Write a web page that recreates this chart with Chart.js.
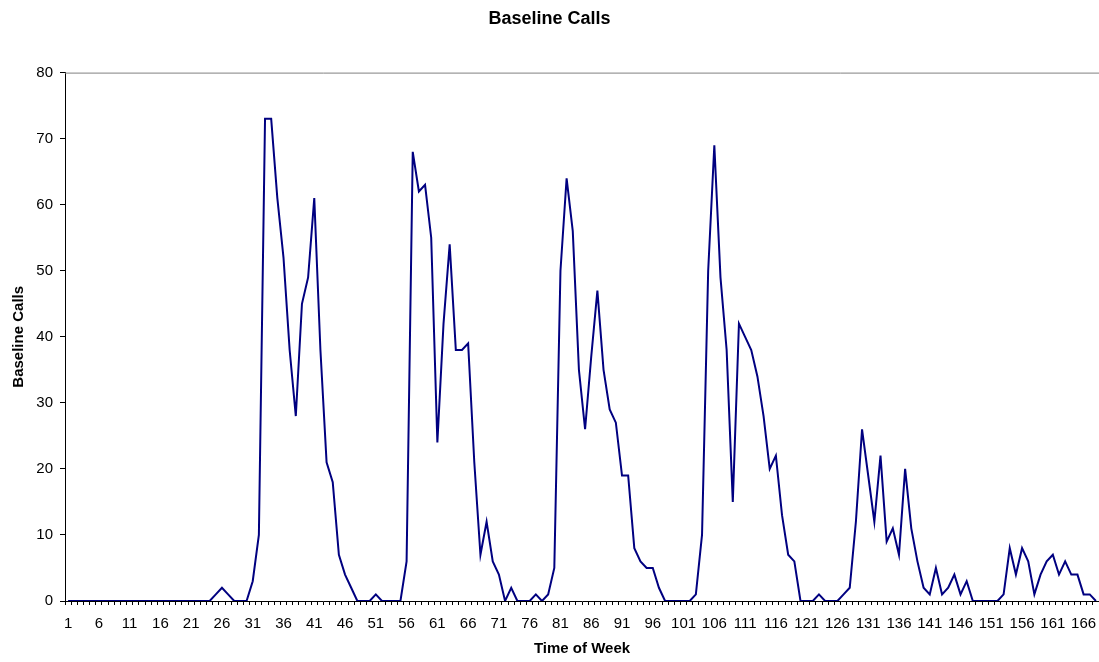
<!DOCTYPE html>
<html>
<head>
<meta charset="utf-8">
<title>Baseline Calls</title>
<script src="https://cdn.jsdelivr.net/npm/chart.js@4.4.1/dist/chart.umd.min.js"></script>
<style>
    html, body { margin: 0; padding: 0; background: #ffffff; overflow: hidden; }
    canvas { display: block; }
</style>
</head>
<body>
<canvas id="callsChart" width="1099" height="662"></canvas>
<script>
// hour of the week (x categories)
const hours = [];
for (let h = 1; h <= 168; h++) hours.push(String(h));

// baseline calls per hour
const calls = [
    0, 0, 0, 0, 0, 0, 0, 0, 0, 0,
    0, 0, 0, 0, 0, 0, 0, 0, 0, 0,
    0, 0, 0, 0, 1, 2, 1, 0, 0, 0,
    3, 10, 73, 73, 61, 52, 38, 28, 45, 49,
    61, 38, 21, 18, 7, 4, 2, 0, 0, 0,
    1, 0, 0, 0, 0, 6, 68, 62, 63, 55,
    24, 42, 54, 38, 38, 39, 21, 7, 12, 6,
    4, 0, 2, 0, 0, 0, 1, 0, 1, 5,
    50, 64, 56, 35, 26, 37, 47, 35, 29, 27,
    19, 19, 8, 6, 5, 5, 2, 0, 0, 0,
    0, 0, 1, 10, 50, 69, 49, 38, 15, 42,
    40, 38, 34, 28, 20, 22, 13, 7, 6, 0,
    0, 0, 1, 0, 0, 0, 1, 2, 12, 26,
    19, 12, 22, 9, 11, 7, 20, 11, 6, 2,
    1, 5, 1, 2, 4, 1, 3, 0, 0, 0,
    0, 0, 1, 8, 4, 8, 6, 1, 4, 6,
    7, 4, 6, 4, 4, 1, 1, 0
];

// y axis range and label spacing
const yMin = 0;
const yMax = 80;
const yStep = 10;
const xLabelEvery = 5;

const fontFamily = "'Liberation Sans', Arial, sans-serif";

// grey frame line along the top of the plot area (Excel style)
const topBorder = {
    id: 'topBorder',
    afterDraw(chart) {
        const area = chart.chartArea;
        const ctx = chart.ctx;
        ctx.save();
        ctx.strokeStyle = '#808080';
        ctx.lineWidth = 1;
        ctx.beginPath();
        ctx.moveTo(area.left, area.top + 0.5);
        ctx.lineTo(area.right, area.top + 0.5);
        ctx.stroke();
        ctx.restore();
    }
};

function drawChart() {
    const ctx = document.getElementById('callsChart').getContext('2d');
    new Chart(ctx, {
        type: 'line',
        data: {
            labels: hours,
            datasets: [{
                label: 'Baseline Calls',
                data: calls,
                borderColor: '#000080',
                backgroundColor: '#000080',
                borderWidth: 2,
                pointRadius: 0,
                pointHoverRadius: 0,
                tension: 0,
                fill: false
            }]
        },
        options: {
            responsive: false,
            animation: false,
            devicePixelRatio: 1,
            layout: { padding: 0 },
            plugins: {
                legend: { display: false },
                tooltip: { enabled: false },
                title: {
                    display: true,
                    text: 'Baseline Calls',
                    color: '#000000',
                    font: { family: fontFamily, size: 18, weight: 'bold' },
                    padding: { top: 8, bottom: 43 }
                }
            },
            scales: {
                x: {
                    type: 'category',
                    offset: true,
                    grid: {
                        offset: true,
                        drawOnChartArea: false,
                        drawTicks: true,
                        tickLength: 4,
                        color: '#000000'
                    },
                    border: { display: true, color: '#000000', width: 1 },
                    ticks: {
                        autoSkip: false,
                        maxRotation: 0,
                        minRotation: 0,
                        padding: 10,
                        color: '#000000',
                        font: { family: fontFamily, size: 15 },
                        callback: function (value, index) {
                            return index % xLabelEvery === 0 ? hours[index] : '';
                        }
                    },
                    title: {
                        display: true,
                        text: 'Time of Week',
                        color: '#000000',
                        font: { family: fontFamily, size: 15, weight: 'bold' },
                        padding: { top: 0, bottom: 4 }
                    },
                    afterFit: function (scale) {
                        scale.height = 61;
                        scale.paddingLeft = 0;
                        scale.paddingRight = 0;
                    }
                },
                y: {
                    min: yMin,
                    max: yMax,
                    grid: {
                        drawOnChartArea: false,
                        drawTicks: true,
                        tickLength: 5,
                        color: '#000000'
                    },
                    border: { display: true, color: '#000000', width: 1 },
                    ticks: {
                        stepSize: yStep,
                        padding: 7,
                        color: '#000000',
                        font: { family: fontFamily, size: 15 }
                    },
                    title: {
                        display: true,
                        text: 'Baseline Calls',
                        color: '#000000',
                        font: { family: fontFamily, size: 15, weight: 'bold' },
                        padding: { top: 10, bottom: 0 }
                    },
                    afterFit: function (scale) {
                        scale.width = 65;
                    }
                }
            }
        },
        plugins: [topBorder]
    });
}

drawChart();
</script>
</body>
</html>
